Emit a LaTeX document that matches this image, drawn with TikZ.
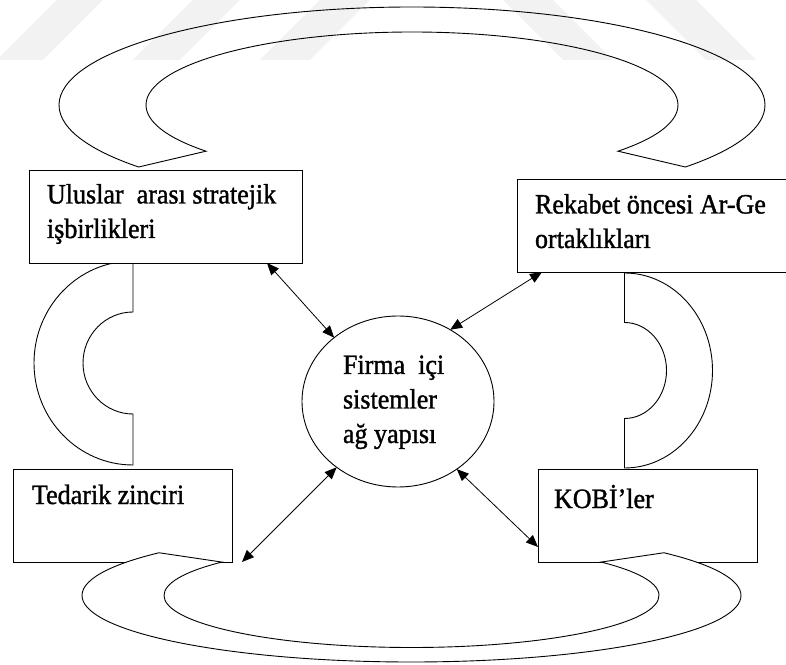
\documentclass[tikz,border=0pt]{standalone}
\usepackage{fontspec}
\setmainfont{Liberation Serif}[FakeStretch=0.93,FakeBold=1.2]
\usetikzlibrary{arrows.meta,shapes.geometric}

\begin{document}
\begin{tikzpicture}[x=1pt,y=1pt,
  line width=0.9pt,
  every node/.style={inner sep=0pt, outer sep=0pt},
  boxnode/.style={draw, fill=white, rectangle, anchor=south west, minimum height=93pt},
  lbl/.style={font=\fontsize{28}{34.5}\selectfont, align=left, anchor=base west},
  band/.style={draw, fill=white, line join=miter},
  openband/.style={draw, line join=miter},
  wmark/.style={fill=black!5, draw=none},
  link/.style={{Triangle[length=12pt,width=10pt]}-{Triangle[length=12pt,width=10pt]}, line width=0.8pt}
]
\useasboundingbox (0,0) rectangle (786,664);

% faint background bands along the top edge
\fill[wmark] (57,664) -- (103,664) -- (43,604) -- (-3,604) -- cycle;
\fill[wmark] (193,664) -- (240,664) -- (180,604) -- (133,604) -- cycle;
\fill[wmark] (320,664) -- (370,664) -- (310,604) -- (260,604) -- cycle;
\fill[wmark] (503,664) -- (553,664) -- (613,604) -- (563,604) -- cycle;
\fill[wmark] (646,664) -- (696,664) -- (756,604) -- (706,604) -- cycle;

% side block arcs
\draw[band] (133,403) arc[start angle=90, end angle=270, x radius=99, y radius=102]
  -- (133,250) arc[start angle=270, end angle=90, x radius=50, y radius=51] -- cycle;
\draw[band] (624.5,391) arc[start angle=90, end angle=-90, x radius=88, y radius=97.5]
  -- (624.5,245.5) arc[start angle=-90, end angle=90, x radius=42, y radius=48] -- cycle;

% upper curved band
\draw[openband] ([shift={(412,559)}]219.25:353 and 98)
  arc[start angle=219.25, end angle=-39.25, x radius=353, y radius=98]
  -- ([shift={(412,559)}]-39.25:266 and 73)
  arc[start angle=-39.25, end angle=219.25, x radius=266, y radius=73] -- cycle;

% boxes
\node[boxnode, minimum width=273pt] (ul) at (29,401) {};
\node[boxnode, minimum width=280pt] (rk) at (517,392) {};
\node[boxnode, minimum width=219pt] (ted) at (13,102) {};
\node[boxnode, minimum width=219pt] (kobi) at (538,102) {};

% lower curved band
\draw[band] ([shift={(411.5,68.5)}]140:329.5 and 66.5)
  arc[start angle=140, end angle=400, x radius=329.5, y radius=66.5]
  -- ([shift={(411.5,68.5)}]40:247.5 and 52)
  arc[start angle=40, end angle=-220, x radius=247.5, y radius=52] -- cycle;

% central ellipse
\node[draw, fill=white, ellipse, minimum width=192pt, minimum height=171pt] (core) at (398,262.5) {};

% labels (anchored at the baseline of the last line)
\node[lbl] (ultext) at (47,426) {Uluslar\ \ arası stratejik\\işbirlikleri};
\node[lbl] (rktext) at (535,416) {Rekabet öncesi Ar-Ge\\ortaklıkları};
\node[lbl] (tedtext) at (32,160) {Tedarik zinciri};
\node[lbl] (kobitext) at (554,156) {KOBİ’ler};
\node[lbl] (coretext) at (343,221) {Firma\ \ içi\\sistemler\\ağ yapısı};

% connectors
\draw[link] ([xshift=-35pt]ul.south east) -- (core.135);
\draw[link] ([xshift=25pt]rk.south west) -- (core.54);
\draw[link] ([xshift=10pt]ted.south east) -- (core.227);
\draw[link] ([yshift=15pt]kobi.south west) -- (core.-49);
\end{tikzpicture}
\end{document}
